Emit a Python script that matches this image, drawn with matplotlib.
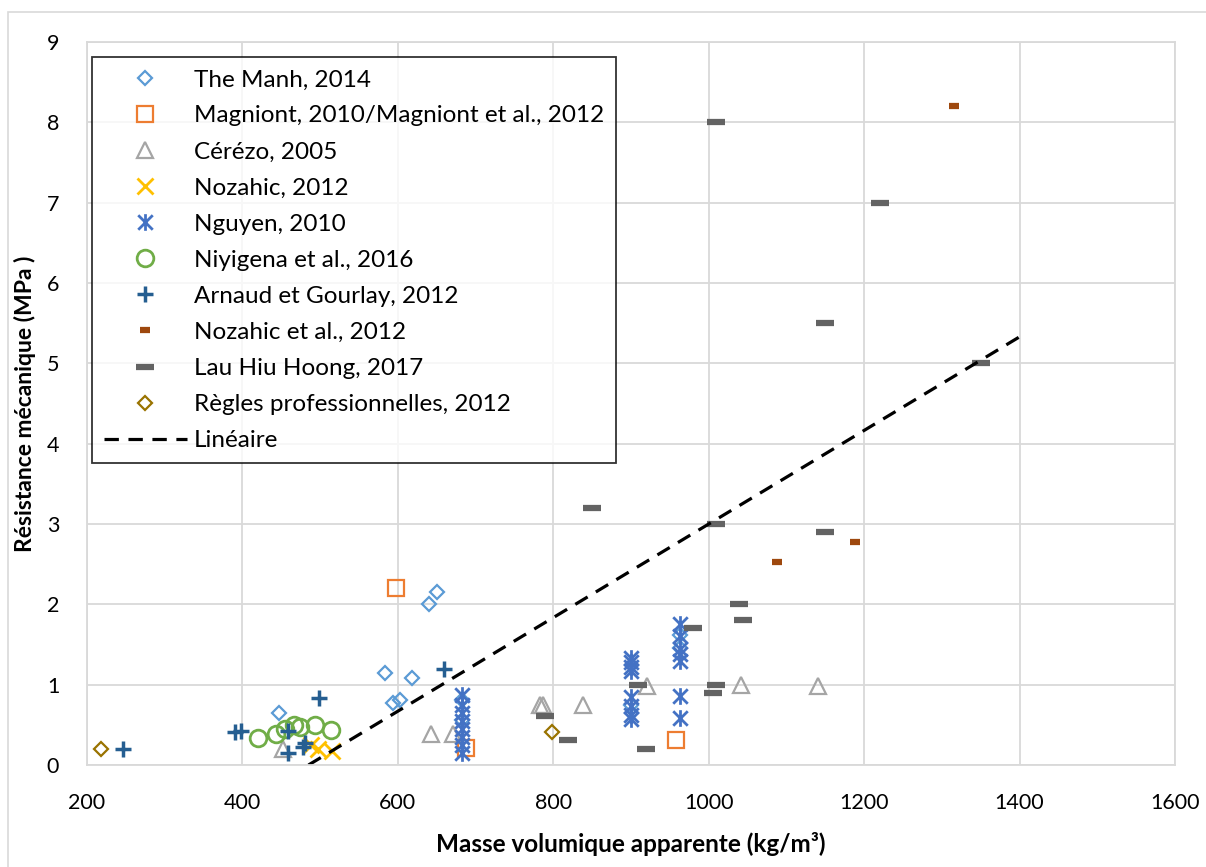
import numpy as np
import matplotlib.pyplot as plt
from matplotlib.path import Path
from matplotlib.patches import Rectangle

plt.rcParams['font.family'] = ['Lato', 'DejaVu Sans']

# --- data ---
manh_x = [447, 583, 594, 603, 618, 640, 650, 683, 683, 900, 963, 963]
manh_y = [0.65, 1.14, 0.77, 0.81, 1.08, 2.0, 2.15, 0.81, 0.56, 0.75, 1.62, 1.46]

magniont_x = [597, 688, 958]
magniont_y = [2.2, 0.21, 0.31]

cerezo_x = [452, 643, 671, 783, 787, 838, 920, 1042, 1140]
cerezo_y = [0.2, 0.39, 0.39, 0.75, 0.75, 0.75, 0.98, 0.99, 0.98]

nozahic_x = [488, 497, 515]
nozahic_y = [0.25, 0.2, 0.17]

nguyen_x = [683] * 8 + [900] * 8 + [963] * 7
nguyen_y = [0.87, 0.75, 0.65, 0.55, 0.45, 0.35, 0.25, 0.15,
            1.33, 1.28, 1.22, 1.17, 0.85, 0.73, 0.62, 0.57,
            1.75, 1.6, 1.45, 1.38, 1.3, 0.86, 0.58]

niyigena_x = [420, 443, 455, 466, 474, 494, 514]
niyigena_y = [0.33, 0.38, 0.45, 0.5, 0.47, 0.5, 0.43]

arnaud_x = [246, 390, 398, 458, 458, 478, 480, 498, 660]
arnaud_y = [0.2, 0.41, 0.42, 0.42, 0.15, 0.22, 0.28, 0.84, 1.2]

nozahic2_x = [1088, 1188, 1315]
nozahic2_y = [2.53, 2.77, 8.2]

lau_x = [1009, 1220, 1149, 1350, 850, 1009, 1149, 1039, 1044, 980, 909, 1010, 1005, 789, 819, 919]
lau_y = [8.0, 7.0, 5.5, 5.0, 3.2, 3.0, 2.9, 2.0, 1.8, 1.7, 1.0, 1.0, 0.9, 0.61, 0.31, 0.2]

regles_x = [218, 798]
regles_y = [0.2, 0.41]

# linear trend (Excel "Linéaire")
trend_slope = 0.005825
trend_x0 = 485
trend_range = [485, 1400]

# Excel-like "star" marker: an x with a vertical bar
star = Path([(-1, -1), (1, 1), (-1, 1), (1, -1), (0, -1.15), (0, 1.15)],
            [Path.MOVETO, Path.LINETO, Path.MOVETO, Path.LINETO, Path.MOVETO, Path.LINETO])

fig = plt.figure(figsize=(12.06, 8.67), dpi=100)
ax = fig.add_axes([87 / 1206, 1 - 765 / 867, (1175 - 87) / 1206, (765 - 42) / 867])

mew = 1.6
ax.plot(manh_x, manh_y, ls='none', marker='D', ms=7.5, mfc='none', mec='#5B9BD5', mew=mew,
        label='The Manh, 2014')
ax.plot(magniont_x, magniont_y, ls='none', marker='s', ms=12, mfc='none', mec='#ED7D31', mew=mew,
        label='Magniont, 2010/Magniont et al., 2012')
ax.plot(cerezo_x, cerezo_y, ls='none', marker='^', ms=11, mfc='none', mec='#A5A5A5', mew=mew,
        label='Cérézo, 2005')
ax.plot(nozahic_x, nozahic_y, ls='none', marker='x', ms=11, mec='#FFC000', mew=2,
        label='Nozahic, 2012')
ax.plot(nguyen_x, nguyen_y, ls='none', marker=star, ms=12, mfc='none', mec='#4472C4', mew=2,
        label='Nguyen, 2010')
ax.plot(niyigena_x, niyigena_y, ls='none', marker='o', ms=12, mfc='none', mec='#70AD47', mew=2,
        label='Niyigena et al., 2016')
ax.plot(arnaud_x, arnaud_y, ls='none', marker='+', ms=11, mec='#255E91', mew=2.5,
        label='Arnaud et Gourlay, 2012')
ax.plot(nozahic2_x, nozahic2_y, ls='none', marker='_', ms=7, mec='#9E480E', mew=4.5,
        label='Nozahic et al., 2012')
ax.plot(lau_x, lau_y, ls='none', marker='_', ms=13, mec='#636363', mew=4.5,
        label='Lau Hiu Hoong, 2017')
ax.plot(regles_x, regles_y, ls='none', marker='D', ms=7.5, mfc='none', mec='#997300', mew=mew,
        label='Règles professionnelles, 2012')

tx = np.array(trend_range, dtype=float)
ax.plot(tx, trend_slope * (tx - trend_x0), color='black', lw=2.3, ls=(0, (4.5, 3)),
        label='Linéaire')

ax.set_xlim(200, 1600)
ax.set_ylim(0, 9)
ax.set_xticks(range(200, 1601, 200))
ax.set_yticks(range(0, 10))
ax.grid(True, color='#D9D9D9', lw=1.3)
ax.set_axisbelow(True)
ax.tick_params(length=0, labelsize=15.5, colors='black')
ax.tick_params(axis='x', pad=20)
ax.tick_params(axis='y', pad=20)
for s in ax.spines.values():
    s.set_color('#D9D9D9')
    s.set_linewidth(1.3)

ax.set_xlabel('Masse volumique apparente (kg/m³)', fontsize=17.5, fontweight='bold', labelpad=14)
ax.set_ylabel('Résistance mécanique (MPa )', fontsize=16.5, fontweight='bold', labelpad=8)

leg = ax.legend(loc='upper left', bbox_to_anchor=(0.0046, 0.979), borderaxespad=0,
                fontsize=17.5, frameon=True, fancybox=False, edgecolor='black',
                handlelength=3.4, handletextpad=0.3, labelspacing=0.62, borderpad=0.5,
                numpoints=1)
leg.get_frame().set_linewidth(1.3)

fig.add_artist(Rectangle((8 / 1206, -0.01), 1.1, 1 - 12 / 867 + 0.01, transform=fig.transFigure,
                         fill=False, edgecolor='#D9D9D9', lw=1.2))

fig.savefig('out.png', dpi=100)
